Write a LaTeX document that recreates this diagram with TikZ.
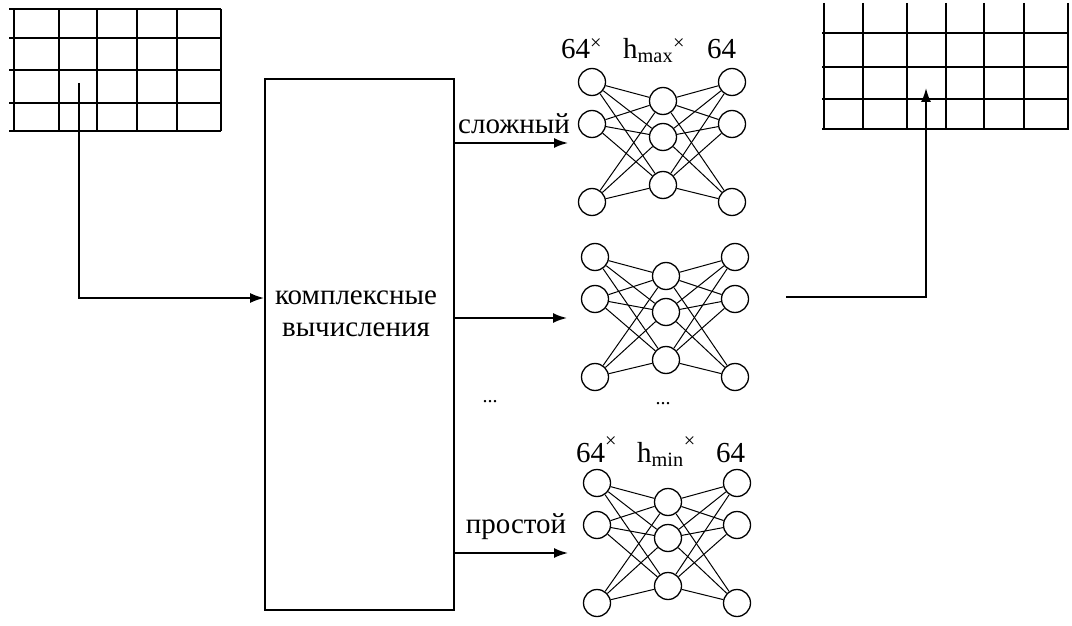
\documentclass[tikz,border=0pt]{standalone}
\usepackage{fontspec}
\setmainfont{Liberation Serif}
\usetikzlibrary{arrows.meta, positioning}

\tikzset{
  wire/.style = {line width=1.8pt},
  arrow/.style = {wire, -{Latex[length=14pt,width=10pt]}},
  neuron/.style = {circle, draw, line width=1.3pt, minimum size=27pt, inner sep=0pt},
  synapse/.style = {line width=1pt},
  caption/.style = {font=\fontsize{29}{32}\selectfont, inner sep=0pt},
}

\begin{document}
\begin{tikzpicture}[x=1pt, y=-1pt]
\useasboundingbox (0,0) rectangle (1072,626);

% input table
\foreach \x in {14,59,97,137,177,221} \draw[wire] (\x,9) -- (\x,131);
\foreach \y in {9,38,70,103,131} \draw[wire] (9,\y) -- (221,\y);

% output table
\foreach \x in {824,863,907,946,984,1024,1068} \draw[wire] (\x,3) -- (\x,129);
\foreach \y in {33,67,99,129} \draw[wire] (822,\y) -- (1069,\y);

% classifier block
\node (calc) [draw, wire, minimum width=189pt, minimum height=531pt, inner sep=0pt] at (359.5,344.5) {};
\node (calctext) [caption, align=center] at (356,314) {комплексные\\вычисления};

% input path
\coordinate (src) at (79,83);
\coordinate (hin) at (0,298);
\draw[arrow] (src) |- (calc.west |- hin);

% branches to the networks
\coordinate (t1) at (568,143);
\coordinate (t2) at (567,318);
\coordinate (t3) at (568,553);
\draw[arrow] (calc.east |- t1) -- (t1);
\draw[arrow] (calc.east |- t2) -- (t2);
\draw[arrow] (calc.east |- t3) -- (t3);
\node (hard) [caption, anchor=base] at (514,133) {сложный};
\node (easy) [caption, anchor=base] at (516,533) {простой};

% networks 64 x h x 64
\foreach \n/\dx/\dy in {1/-2/0, 2/1/175, 3/3/401} {
  \begin{scope}[shift={(\dx,\dy)}]
    \foreach \i/\y in {1/82,2/124,3/202} {
      \node[neuron] (l\n\i) at (594,\y) {};
      \node[neuron] (r\n\i) at (734,\y) {};
    }
    \foreach \i/\y in {1/101,2/137,3/185}
      \node[neuron] (m\n\i) at (665,\y) {};
    \foreach \i in {1,2,3}
      \foreach \j in {1,2,3} {
        \draw[synapse] (l\n\i) -- (m\n\j);
        \draw[synapse] (m\n\j) -- (r\n\i);
      }
  \end{scope}
}

% layer sizes
\node (in1) [caption, anchor=base west] at (561,59) {64\textsuperscript{×}};
\node (hid1) [caption, anchor=base west] at (623,59) {h\textsubscript{max}\textsuperscript{×}};
\node (out1) [caption, anchor=base west] at (707,59) {64};
\node (in3) [caption, anchor=base west] at (576,462) {64\textsuperscript{\raisebox{5pt}{×}}};
\node (hid3) [caption, anchor=base west] at (637,462) {h\textsubscript{min}\textsuperscript{\raisebox{5pt}{×}}};
\node (out3) [caption, anchor=base west] at (716,462) {64};

% omitted networks
\node (gap1) [font=\fontsize{20}{20}\selectfont] at (490,402) {...};
\node (gap2) [font=\fontsize{20}{20}\selectfont] at (663,404) {...};

% result path
\coordinate (res) at (786,297);
\coordinate (cell) at (926,88);
\draw[arrow] (res) -| (cell);
\end{tikzpicture}
\end{document}
